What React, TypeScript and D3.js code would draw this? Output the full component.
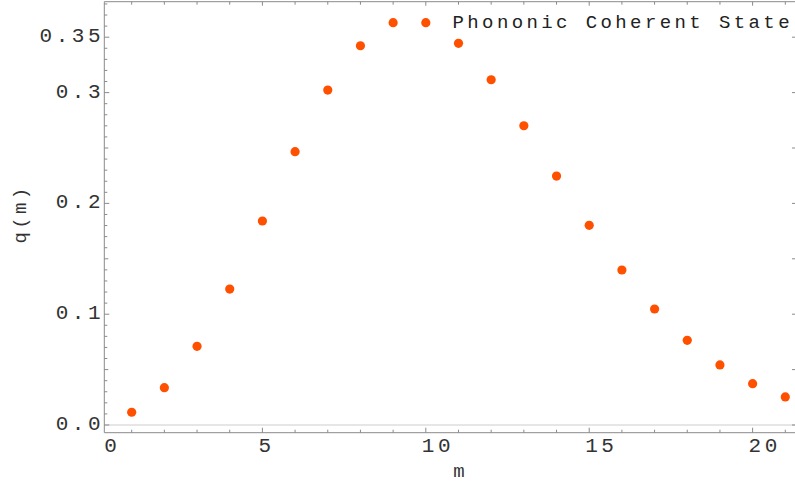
import React from "react";
import * as d3 from "d3";

const mValues = [1, 2, 3, 4, 5, 6, 7, 8, 9, 10, 11, 12, 13, 14, 15, 16, 17, 18, 19, 20, 21];
const qValues = [0.0115, 0.0337, 0.071, 0.1227, 0.1841, 0.2467, 0.3023, 0.3423, 0.3631, 0.3631, 0.3445, 0.3116, 0.2701, 0.2247, 0.1802, 0.1399, 0.1047, 0.0764, 0.0542, 0.0373, 0.0253];
const xTickLabels = [0, 5, 10, 15, 20];
const yTickValues = [0, 0.1, 0.2, 0.3, 0.35];
const yTickLabels = ["0.0", "0.1", "0.2", "0.3", "0.35"];
const legendLabel = "Phononic Coherent State";
const xTitle = "m";
const yTitle = "q(m)";

const W = 795;
const H = 484;
const L = 104.3;
const T = 1.7;
const B = 432.7;
const R = 797;

export default function App() {
  const x = d3.scaleLinear().domain([0, 21]).range([99, 785.3]);
  const y = d3.scaleLinear().domain([0, 0.35]).range([425, 37.2]);
  const frame = "#8a8a8a";
  const mono = "'Liberation Mono', 'DejaVu Sans Mono', monospace";

  const xMinor = d3.range(1, 22);
  const yMinor = d3.range(0, 39).map((i) => i / 100).filter((v) => y(v) > T + 1);
  const yRight = d3.range(0, 8).map((i) => i * 0.05);

  return (
    <svg width={W} height={H} style={{ position: "absolute", left: 0, top: 0, background: "#fff" }}>
      {/* zero line */}
      <line x1={L} x2={R} y1={y(0)} y2={y(0)} stroke="#dedede" strokeWidth={1.6} />
      {/* frame */}
      <line x1={L} x2={R} y1={B} y2={B} stroke={frame} strokeWidth={1} />
      <line x1={L} x2={L} y1={T} y2={B} stroke={frame} strokeWidth={1} />
      <line x1={L} x2={R} y1={T} y2={T} stroke={frame} strokeWidth={1} />
      {/* bottom ticks */}
      {xMinor.map((v) => {
        const major = v % 5 === 0;
        return <line key={"bx" + v} x1={x(v)} x2={x(v)} y1={B} y2={B - (major ? 5 : 3)} stroke={frame} strokeWidth={1} />;
      })}
      {/* top ticks */}
      {xMinor.map((v) => (
        <line key={"tx" + v} x1={x(v)} x2={x(v)} y1={T} y2={T + (v % 5 === 0 ? 4 : 3)} stroke={frame} strokeWidth={1} />
      ))}
      {/* left ticks */}
      {yMinor.map((v) => {
        const k = Math.round(v * 100);
        const major = k % 10 === 0 || k === 35;
        const mid = k % 5 === 0;
        return <line key={"ly" + k} x1={L} x2={L + (major ? 5 : mid ? 4 : 3)} y1={y(v)} y2={y(v)} stroke={frame} strokeWidth={1} />;
      })}
      {/* right ticks */}
      {yRight.map((v, i) => (
        <line key={"ry" + i} x1={795} x2={792} y1={y(v)} y2={y(v)} stroke={frame} strokeWidth={1} />
      ))}
      {/* x tick labels */}
      {xTickLabels.map((v) => (
        <text key={"xl" + v} x={Math.max(L, x(v) - 4)} y={452} fontFamily={mono} fontSize={21} letterSpacing={3.5} fill="#333" textAnchor="start">
          {String(v)}
        </text>
      ))}
      {/* y tick labels */}
      {yTickValues.map((v, i) => (
        <text key={"yl" + i} x={104} y={y(v) + 5} fontFamily={mono} fontSize={21} letterSpacing={3.5} fill="#333" textAnchor="end">
          {yTickLabels[i]}
        </text>
      ))}
      {/* points */}
      {mValues.map((m, i) => (
        <circle key={"p" + m} cx={x(m)} cy={y(qValues[i])} r={4.6} fill="#ff5000" />
      ))}
      {/* legend text */}
      <text x={452.5} y={27.5} fontFamily={mono} fontSize={19} letterSpacing={3.4} fill="#222">
        {legendLabel}
      </text>
      {/* axis titles */}
      <text x={459} y={477} fontFamily={mono} fontSize={19} fill="#333" textAnchor="middle">
        {xTitle}
      </text>
      <text transform="translate(26,214) rotate(-90)" fontFamily={mono} fontSize={19} letterSpacing={3.4} fill="#333" textAnchor="middle">
        {yTitle}
      </text>
    </svg>
  );
}
